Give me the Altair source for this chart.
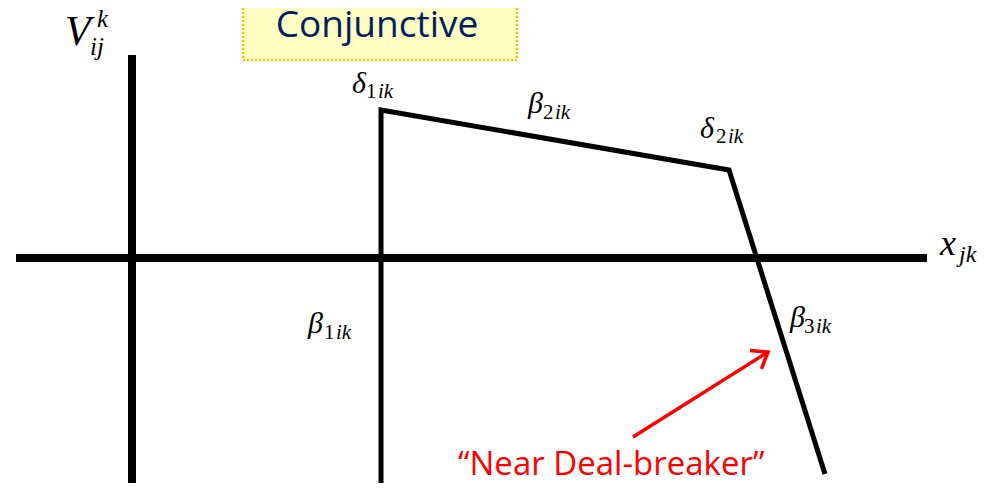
import altair as alt
import pandas as pd

# Diagram coordinates (axis crossing at 0,0)
axis_x = [0, -116]
axis_y = [-233, 0]
axis_x2 = [0, 795]
axis_y2 = [203, 0]

curve_x = [249, 249, 597, 693]
curve_y = [-233, 148, 88, -216]

arrow_x = [501]
arrow_y = [-179]
arrow_x2 = [636]
arrow_y2 = [-94]

box_x, box_x2, box_y, box_y2 = [111], [385], [198], [268]
title_text = ["Conjunctive"]
title_x, title_y = [245], [221]

note_text = ["\u201cNear Deal-breaker\u201d"]
note_x, note_y = [326], [-217]

# math label pieces: italic parts
ital_text = ["V", "k", "ij", "\u03b4", "ik", "\u03b2", "ik", "\u03b4", "ik",
             "\u03b2", "ik", "\u03b2", "ik", "x", "jk"]
ital_x = [-67, -35, -42, 220, 246, 396, 423, 568, 596, 176, 204, 658, 684, 808, 827]
ital_y = [213, 231, 203, 165, 160, 145, 139, 120, 115, -75, -81, -69, -75, 3, -4]
ital_size = [42, 25, 25, 30, 21, 30, 21, 30, 21, 30, 21, 30, 21, 36, 24]
# upright digits of subscripts
up_text = ["1", "2", "2", "1", "3"]
up_x = [234, 411, 584, 192, 672]
up_y = [160, 139, 115, -81, -75]
up_size = [21, 21, 21, 21, 21]

SERIF = "Liberation Serif, DejaVu Serif, serif"

XS = alt.Scale(domain=[-124, 862], nice=False, zero=False)
YS = alt.Scale(domain=[-225, 250], nice=False, zero=False)


def X(f="x"):
    return alt.X(f"{f}:Q", scale=XS, axis=None)


def Y(f="y"):
    return alt.Y(f"{f}:Q", scale=YS, axis=None)


box = alt.Chart(pd.DataFrame({"x": box_x, "x2": box_x2, "y": box_y, "y2": box_y2})).mark_rect(
    fill="#FFFFC4", stroke="#FFC000", strokeWidth=2.5, strokeDash=[2, 2], clip=True
).encode(x=X(), x2="x2:Q", y=Y(), y2="y2:Q")

title = alt.Chart(pd.DataFrame({"t": title_text, "x": title_x, "y": title_y})).mark_text(
    font="Open Sans", fontSize=37, color="#002060", align="center", baseline="alphabetic"
).encode(x=X(), y=Y(), text="t:N")

axes = alt.Chart(pd.DataFrame({"x": axis_x, "y": axis_y, "x2": axis_x2, "y2": axis_y2})).mark_rule(
    color="black", strokeWidth=8, clip=True
).encode(x=X(), y=Y(), x2="x2:Q", y2="y2:Q")

curve = alt.Chart(pd.DataFrame({"x": curve_x, "y": curve_y, "o": list(range(len(curve_x)))})).mark_line(
    color="black", strokeWidth=5, strokeJoin="miter", strokeCap="butt", clip=True
).encode(x=X(), y=Y(), order="o:Q")

arrow = alt.Chart(pd.DataFrame({"x": arrow_x, "y": arrow_y, "x2": arrow_x2, "y2": arrow_y2})).mark_rule(
    color="#FF0000", strokeWidth=3.5
).encode(x=X(), y=Y(), x2="x2:Q", y2="y2:Q")

head = alt.Chart(pd.DataFrame({"x": arrow_x2, "y": arrow_y2})).mark_point(
    shape="M-0.6,0.8L0,0L0.6,0.8", filled=False, stroke="#FF0000", strokeWidth=3.5,
    size=1300, angle=58, opacity=1, strokeJoin="miter"
).encode(x=X(), y=Y())

note = alt.Chart(pd.DataFrame({"t": note_text, "x": note_x, "y": note_y})).mark_text(
    font="Open Sans", fontSize=33, color="#FF0000", align="left", baseline="alphabetic"
).encode(x=X(), y=Y(), text="t:N")

ital = alt.Chart(pd.DataFrame({"t": ital_text, "x": ital_x, "y": ital_y, "s": ital_size})).mark_text(
    font=SERIF, fontStyle="italic", color="black", align="left", baseline="alphabetic"
).encode(x=X(), y=Y(), text="t:N", size=alt.Size("s:Q", scale=None))

up = alt.Chart(pd.DataFrame({"t": up_text, "x": up_x, "y": up_y, "s": up_size})).mark_text(
    font=SERIF, color="black", align="left", baseline="alphabetic"
).encode(x=X(), y=Y(), text="t:N", size=alt.Size("s:Q", scale=None))

chart = alt.layer(box, title, axes, curve, arrow, head, note, ital, up).properties(
    width=986, height=475, autosize=alt.AutoSizeParams(type="none"), padding=0, background="white"
).configure_view(stroke=None)

chart.save("out.html", embed_options={"renderer": "svg", "actions": False})
